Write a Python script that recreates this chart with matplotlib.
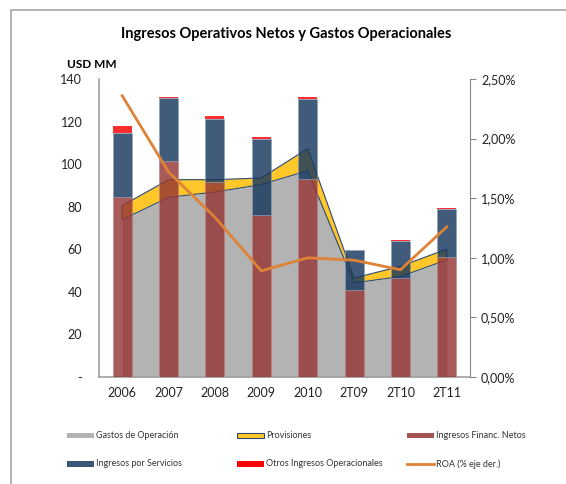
import numpy as np
import matplotlib
matplotlib.use("Agg")
from matplotlib import pyplot as plt
from matplotlib.patches import Rectangle
from matplotlib.lines import Line2D
from matplotlib.ticker import FuncFormatter

plt.rcParams['font.family'] = ['Lato', 'DejaVu Sans']

# datos (USD MM y ROA %)
periodos = ['2006', '2007', '2008', '2009', '2010', '2T09', '2T10', '2T11']
gastos = [73.9, 84.4, 86.9, 90.4, 96.9, 44.2, 47.2, 55.0]
provisiones = [6.6, 8.3, 5.8, 3.1, 10.4, 2.3, 4.8, 5.1]
financ = [84.6, 101.5, 91.8, 76.3, 93.2, 41.0, 46.3, 56.5]
servicios = [30.0, 29.4, 29.2, 35.5, 37.2, 18.5, 17.4, 22.4]
otros = [3.5, 0.8, 1.8, 0.8, 1.3, 0.3, 0.8, 0.6]
roa = [2.36, 1.72, 1.34, 0.89, 1.00, 0.98, 0.90, 1.26]

c_gastos = '#b3b3b3'
c_prov = '#ffc729'
c_fin = '#953735'
c_serv = '#17375e'
c_otros = '#ff0000'
c_roa = '#de8236'
c_eje = '#a0a0a0'

W, H = 566, 484
fig = plt.figure(figsize=(W / 100, H / 100), dpi=100)
ax = fig.add_axes([99 / W, 1 - 377 / H, (470 - 99) / W, (377 - 79) / H])

x = np.arange(len(periodos))
g = np.array(gastos)
p = g + np.array(provisiones)

# areas
ax.fill_between(x, 0, g, color=c_gastos, lw=0, zorder=1)
ax.fill(np.concatenate([x, x[::-1]]), np.concatenate([p, g[::-1]]),
        facecolor=c_prov, edgecolor='#2b4a74', lw=0.8, zorder=2)

# barras apiladas
ancho = 0.41
a = 0.82
ax.bar(x, financ, ancho, color=c_fin, alpha=a, edgecolor='#c08080', lw=0.5, zorder=3)
b2 = np.array(financ)
ax.bar(x, servicios, ancho, bottom=b2, color=c_serv, alpha=a, edgecolor='#8ea2bd', lw=0.5, zorder=3)
b3 = b2 + np.array(servicios)
ax.bar(x, otros, ancho, bottom=b3, color=c_otros, alpha=a, lw=0, zorder=3)

ax.set_xlim(-0.5, len(periodos) - 0.5)
ax.set_ylim(0, 140)
ax.set_yticks(range(0, 141, 20))
ax.set_yticklabels(['-'] + [str(v) for v in range(20, 141, 20)])
ax.set_xticks(x)
ax.set_xticklabels(periodos)
ax.tick_params(axis='y', length=0, pad=12, labelsize=9, colors='#222222')
ax.tick_params(axis='x', length=0, pad=7, labelsize=9, colors='#222222')
for s in ['top', 'right']:
    ax.spines[s].set_visible(False)
ax.spines['left'].set_color(c_eje)
ax.spines['bottom'].set_color(c_eje)
ax.spines['left'].set_linewidth(1.2)
ax.spines['bottom'].set_linewidth(1.2)

# ROA eje derecho
ax2 = ax.twinx()
ax2.plot(x, roa, color=c_roa, lw=2.0, zorder=5)
ax2.set_ylim(0, 2.5)
ax2.set_yticks([0, 0.5, 1.0, 1.5, 2.0, 2.5])
ax2.yaxis.set_major_formatter(FuncFormatter(lambda v, pos: f'{v:.2f}%'.replace('.', ',')))
ax2.tick_params(axis='y', length=4, pad=4, labelsize=9, colors='#222222', color='#888888')
for s in ['top', 'left', 'bottom']:
    ax2.spines[s].set_visible(False)
ax2.spines['right'].set_color('#888888')

# textos
fig.text(286 / W, 1 - 34 / H, 'Ingresos Operativos Netos y Gastos Operacionales',
         ha='center', va='center', fontsize=10.5, fontweight='bold')
fig.text(67 / W, 1 - 64 / H, 'USD MM', ha='left', va='center', fontsize=8.5, fontweight='bold')

# leyenda
items = [
    ('Gastos de Operación', 'patch', c_gastos, None),
    ('Provisiones', 'patch', c_prov, '#2b4a74'),
    ('Ingresos Financ. Netos', 'patch', '#a65453', None),
    ('Ingresos por Servicios', 'patch', '#3b5678', None),
    ('Otros Ingresos Operacionales', 'patch', c_otros, None),
    ('ROA (% eje der.)', 'line', c_roa, None),
]
cols = [67, 237, 407]
rows = [435.5, 464]
for i, (lab, tipo, col, borde) in enumerate(items):
    x0 = cols[i % 3]
    y0 = rows[i // 3]
    if tipo == 'patch':
        fig.add_artist(Rectangle((x0 / W, 1 - (y0 + 2.6) / H), 26.5 / W, 5.2 / H,
                                 transform=fig.transFigure, facecolor=col,
                                 edgecolor=borde if borde else col, lw=0.8 if borde else 0))
    else:
        fig.add_artist(Line2D([x0 / W, (x0 + 26.5) / W], [1 - y0 / H, 1 - y0 / H],
                              transform=fig.transFigure, color=col, lw=2.0))
    fig.text((x0 + 29) / W, 1 - y0 / H, lab, ha='left', va='center', fontsize=6.5, color='#333333')

# borde del grafico
fig.add_artist(Rectangle((11 / W, -0.1), 1.0, 1.1 - 10 / H, transform=fig.transFigure,
                         fill=False, edgecolor='#a6a6a6', lw=1.2))

fig.savefig('out.png', dpi=100)
